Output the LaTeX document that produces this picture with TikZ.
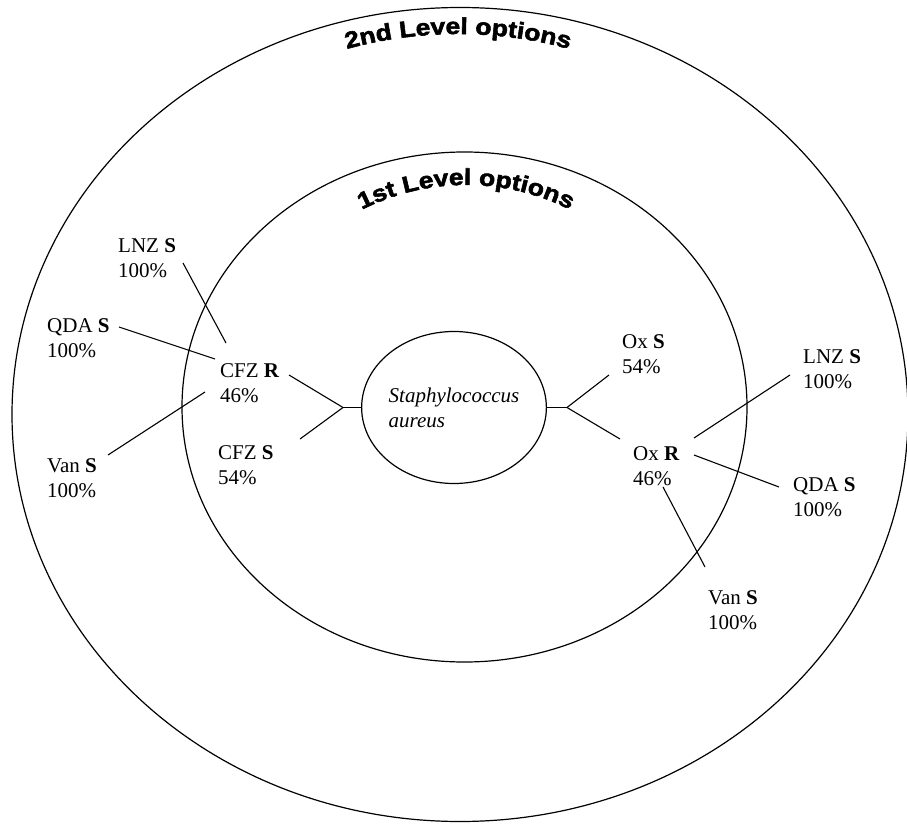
\documentclass[tikz,border=0pt]{standalone}
\usepackage{fontspec}
\setmainfont{Liberation Serif}
\newfontfamily\arcfont[FakeStretch=1.15,FakeBold=2.4]{Liberation Sans Bold}
\usetikzlibrary{decorations.text,shapes.geometric}
\begin{document}
\begin{tikzpicture}[x=1pt,y=1pt,
  ring/.style={draw=black, line width=1.2pt},
  lbl/.style={anchor=west, inner sep=0pt, align=left, font=\fontsize{21}{25}\selectfont},
  conn/.style={draw=black, line width=1.1pt},
  arctext/.style={decorate, decoration={text along path, text align=center,
     text={|\arcfont\fontsize{23}{24}\selectfont|#1}}}]
\useasboundingbox (0,0) rectangle (907,823);
\begin{scope}
\clip (0,0) rectangle (907,823);
\draw[ring] (460,408.5) ellipse [x radius=448, y radius=407];
\end{scope}
\draw[ring] (464.5,416) ellipse [x radius=282.5, y radius=255];
\path[arctext={2nd Level options}] ([shift={(458,369)}]130:420) arc[start angle=130, end angle=50, radius=420];
\path[arctext={1st Level options}] ([shift={(466,406)}]160:232) arc[start angle=160, end angle=20, radius=232];

\node[ellipse, draw=black, line width=1.2pt, minimum width=182pt, minimum height=152pt, inner sep=0pt,
  align=left, font=\fontsize{21}{25}\selectfont\itshape] (sa) at (454,415.5) {Staphylococcus\\aureus};

\node[lbl] (lnzL) at (118,565) {LNZ \textbf{S}\\100\%};
\node[lbl] (qdaL) at (47,485) {QDA \textbf{S}\\100\%};
\node[lbl] (vanL) at (47,345) {Van \textbf{S}\\100\%};
\node[lbl] (cfzR) at (220,440) {CFZ \textbf{R}\\46\%};
\node[lbl] (cfzS) at (218,358) {CFZ \textbf{S}\\54\%};
\node[lbl] (oxS) at (622,469) {Ox \textbf{S}\\54\%};
\node[lbl] (oxR) at (633,357) {Ox \textbf{R}\\46\%};
\node[lbl] (lnzR) at (803,454) {LNZ \textbf{S}\\100\%};
\node[lbl] (qdaR) at (793,326) {QDA \textbf{S}\\100\%};
\node[lbl] (vanR) at (708,213) {Van \textbf{S}\\100\%};

\coordinate (bl) at (343,415.5);
\coordinate (br) at (567,415.5);
\coordinate (cfzRe) at (289,448);
\coordinate (cfzSe) at (300,384);
\coordinate (oxSe) at (609,448);
\coordinate (oxRe) at (620,384);
\coordinate (lnzLe) at (183,560);
\coordinate (cfzRa) at (226,480);
\coordinate (qdaLe) at (119,496);
\coordinate (cfzRb) at (215,464);
\coordinate (vanLe) at (108,368);
\coordinate (cfzRc) at (205,431);
\coordinate (lnzRe) at (790,448);
\coordinate (oxRa) at (694,385);
\coordinate (oxRb) at (694,368);
\coordinate (qdaRe) at (779,336);
\coordinate (oxRc) at (663,336);
\coordinate (vanRe) at (705,256);

\draw[conn] (sa.west) -- (bl);
\draw[conn] (bl) -- (cfzRe);
\draw[conn] (bl) -- (cfzSe);
\draw[conn] (sa.east) -- (br);
\draw[conn] (br) -- (oxSe);
\draw[conn] (br) -- (oxRe);
\draw[conn] (lnzLe) -- (cfzRa);
\draw[conn] (qdaLe) -- (cfzRb);
\draw[conn] (vanLe) -- (cfzRc);
\draw[conn] (lnzRe) -- (oxRa);
\draw[conn] (oxRb) -- (qdaRe);
\draw[conn] (oxRc) -- (vanRe);
\end{tikzpicture}
\end{document}
